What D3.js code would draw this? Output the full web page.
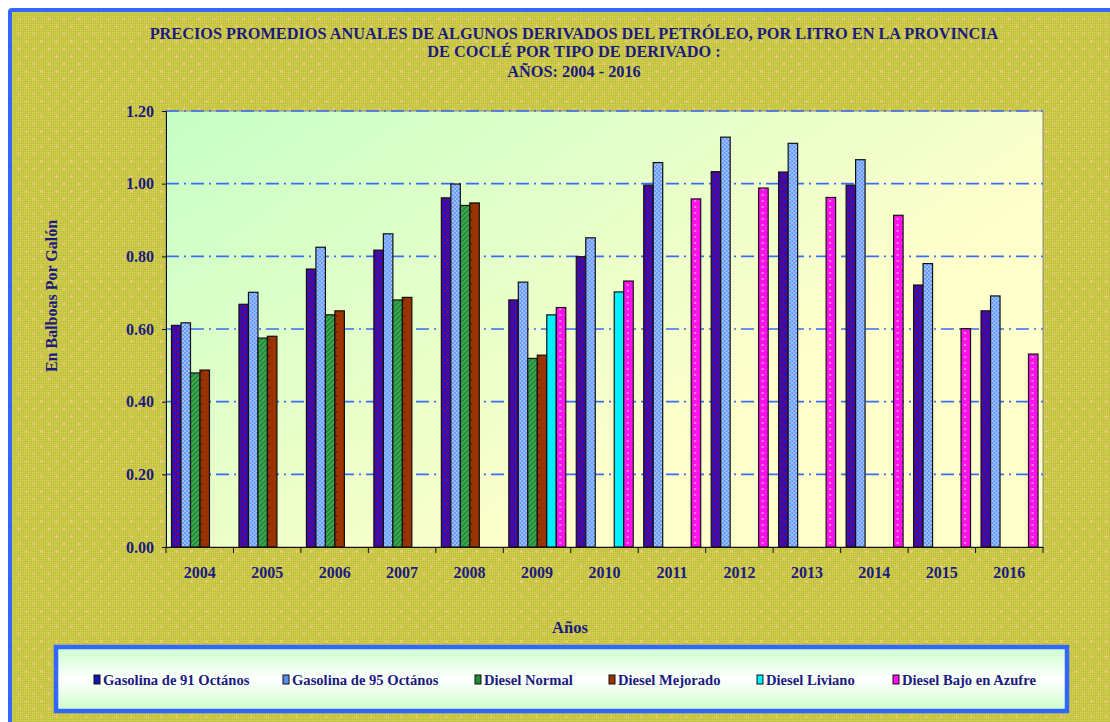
<!DOCTYPE html>
<html>
<head>
<meta charset="utf-8">
<script src="https://cdn.jsdelivr.net/npm/d3@7"></script>
<style>
  body { margin: 0; background: #fff; }
  svg { display: block; }
  text { font-family: "Liberation Serif", "Times New Roman", serif; font-weight: bold; fill: #1a1a80; }
</style>
</head>
<body>
<svg id="chart" width="1110" height="722"></svg>
<script>
// data
const years = ['2004','2005','2006','2007','2008','2009','2010','2011','2012','2013','2014','2015','2016'];
const series = ['Gasolina de 91 Octános','Gasolina de 95 Octános','Diesel Normal','Diesel Mejorado','Diesel Liviano','Diesel Bajo en Azufre'];
const gas91 = [0.610,0.668,0.765,0.817,0.961,0.680,0.799,0.996,1.033,1.032,0.996,0.721,0.650];
const gas95 = [0.617,0.701,0.825,0.862,0.999,0.729,0.851,1.058,1.128,1.111,1.066,0.780,0.691];
const dieselNormal = [0.479,0.575,0.639,0.680,0.940,0.519,null,null,null,null,null,null,null];
const dieselMejorado = [0.487,0.580,0.650,0.687,0.947,0.528,null,null,null,null,null,null,null];
const dieselLiviano = [null,null,null,null,null,0.639,0.702,null,null,null,null,null,null];
const dieselBajo = [null,null,null,null,null,0.659,0.732,0.958,0.988,0.962,0.913,0.601,0.531];
const yTicks = [0,0.2,0.4,0.6,0.8,1.0,1.2];
const titleLines = ['PRECIOS PROMEDIOS ANUALES DE ALGUNOS DERIVADOS DEL PETRÓLEO, POR LITRO EN LA PROVINCIA','DE COCLÉ POR TIPO DE DERIVADO :','AÑOS: 2004 - 2016'];

const values = [gas91, gas95, dieselNormal, dieselMejorado, dieselLiviano, dieselBajo];

const svg = d3.select('#chart');
const defs = svg.append('defs');

const plot = {left:166, right:1043, top:111, bottom:547};

// background texture: olive with little pink crosses
let chk = defs.append('pattern').attr('id','chk').attr('patternUnits','userSpaceOnUse').attr('width',2).attr('height',2);
chk.append('rect').attr('width',2).attr('height',2).attr('fill','#c8c644');
chk.append('rect').attr('width',1).attr('height',1).attr('fill','#d6d056');
chk.append('rect').attr('x',1).attr('y',1).attr('width',1).attr('height',1).attr('fill','#bcc23e');

let plus = defs.append('pattern').attr('id','plus').attr('patternUnits','userSpaceOnUse').attr('width',15).attr('height',15);
[[4,4],[11.5,11.5]].forEach(p => {
  plus.append('rect').attr('x',p[0]-1.5).attr('y',p[1]-0.5).attr('width',3).attr('height',1).attr('fill','#f5c490');
  plus.append('rect').attr('x',p[0]-0.5).attr('y',p[1]-1.5).attr('width',1).attr('height',3).attr('fill','#f5c490');
});

// gradients
let pg = defs.append('linearGradient').attr('id','plotGrad').attr('x1',0).attr('y1',0).attr('x2',0.75).attr('y2',0.55);
pg.append('stop').attr('offset',0).attr('stop-color','#c6ffc6');
pg.append('stop').attr('offset',1).attr('stop-color','#ffffcc');

let lg = defs.append('linearGradient').attr('id','legGrad').attr('x1',0).attr('y1',0).attr('x2',0).attr('y2',1);
lg.append('stop').attr('offset',0).attr('stop-color','#ccffcc');
lg.append('stop').attr('offset',0.5).attr('stop-color','#ffffff');
lg.append('stop').attr('offset',1).attr('stop-color','#ccffcc');

// bar fill patterns
function pat(id, w, h, bg, draw){
  let p = defs.append('pattern').attr('id',id).attr('patternUnits','userSpaceOnUse').attr('width',w).attr('height',h);
  p.append('rect').attr('width',w).attr('height',h).attr('fill',bg);
  draw(p);
}
pat('p91',6,6,'#1414e6', p => {
  p.append('path').attr('d','M0,0L6,6M6,0L0,6').attr('stroke','#7a0050').attr('stroke-width',1.2);
});
pat('p95',4,4,'#6a98f8', p => {
  p.append('rect').attr('x',0).attr('y',0).attr('width',2).attr('height',2).attr('fill','#9cc2ff');
  p.append('rect').attr('x',2).attr('y',2).attr('width',2).attr('height',2).attr('fill','#9cc2ff');
});
pat('pNormal',5,5,'#1f8a3a', p => {
  p.append('path').attr('d','M0,5L5,0M-1,1L1,-1M4,6L6,4').attr('stroke','#4cb05a').attr('stroke-width',1.4);
});
pat('pMejorado',8,8,'#9a3300', p => {
  p.append('rect').attr('x',3).attr('y',3).attr('width',1.5).attr('height',1.5).attr('fill','#4a2200');
});
pat('pLiviano',4,4,'#00f0ff', p => {});
pat('pBajo',6,6,'#ff10f0', p => {
  p.append('rect').attr('x',2).attr('y',2).attr('width',2).attr('height',2).attr('fill','#ff88c8');
});
const fills = ['url(#p91)','url(#p95)','url(#pNormal)','url(#pMejorado)','url(#pLiviano)','url(#pBajo)'];
const legendFill = ['#1414b4','#5b8cf0','#1f8a3a','#9a3300','#00f0ff','#ff10f0'];

// outer frame
svg.append('rect').attr('x',10).attr('y',10).attr('width',1200).attr('height',800).attr('fill','url(#chk)');
svg.append('rect').attr('x',10).attr('y',10).attr('width',1200).attr('height',800).attr('fill','url(#plus)');
svg.append('rect').attr('x',10).attr('y',10).attr('width',1200).attr('height',800).attr('rx',2)
  .attr('fill','none').attr('stroke','#3366ff').attr('stroke-width',4);

// title
svg.append('g').selectAll('text').data(titleLines).enter().append('text')
  .attr('x',574).attr('y',(d,i) => [39,57,77][i])
  .attr('text-anchor','middle').attr('font-size',16.3)
  .text(d => d);

// scales
const x = d3.scaleBand().domain(years).range([plot.left, plot.right]).padding(0);
const xs = d3.scaleBand().domain(d3.range(series.length)).range([5.5, x.bandwidth() - 5]).padding(0);
const y = d3.scaleLinear().domain([0,1.2]).range([plot.bottom, plot.top]);

// plot area
svg.append('rect').attr('x',plot.left).attr('y',plot.top)
  .attr('width',plot.right - plot.left).attr('height',plot.bottom - plot.top)
  .attr('fill','url(#plotGrad)').attr('stroke','#8a8a8a').attr('stroke-width',1);

// grid
svg.append('g').selectAll('line').data(yTicks.filter(d => d > 0)).enter().append('line')
  .attr('x1',plot.left).attr('x2',plot.right)
  .attr('y1',d => y(d)).attr('y2',d => y(d))
  .attr('stroke','#3a6cf5').attr('stroke-width',1.6).attr('stroke-dasharray','13,5,2,5');

// bars
let groups = svg.append('g').selectAll('g').data(years).enter().append('g')
  .attr('transform', d => 'translate(' + x(d) + ',0)');

groups.selectAll('rect')
  .data((yr,i) => values.map((s,k) => ({k:k, v:s[i]})).filter(d => d.v != null))
  .enter().append('rect')
  .attr('x', d => xs(d.k))
  .attr('width', xs.bandwidth())
  .attr('y', d => y(d.v))
  .attr('height', d => y(0) - y(d.v))
  .attr('fill', d => fills[d.k])
  .attr('stroke','#111').attr('stroke-width',1.2);

// y axis
const yAxis = svg.append('g').attr('transform','translate(' + plot.left + ',0)')
  .call(d3.axisLeft(y).tickValues(yTicks).tickFormat(d3.format('.2f')).tickSize(4).tickPadding(8));
yAxis.selectAll('.tick text').attr('font-size',16).attr('fill','#1a1a80');
yAxis.selectAll('.tick line').attr('stroke','#111');
yAxis.select('.domain').attr('stroke','#111');

// x axis: labels centred, ticks at category borders
const xAxis = svg.append('g').attr('transform','translate(0,' + plot.bottom + ')')
  .call(d3.axisBottom(x).tickSize(0).tickPadding(20));
xAxis.selectAll('.tick text').attr('font-size',16).attr('fill','#1a1a80');
xAxis.select('.domain').attr('stroke','#111').attr('stroke-width',1.2);
xAxis.selectAll('line.border').data(years.map(d => x(d)).concat([plot.right])).enter().append('line')
  .attr('class','border')
  .attr('x1',d => d).attr('x2',d => d).attr('y1',0).attr('y2',6)
  .attr('stroke','#111');

// axis titles
svg.append('text').attr('x',570).attr('y',633).attr('text-anchor','middle').attr('font-size',16.5).text('Años');
svg.append('text').attr('transform','translate(57,296) rotate(-90)').attr('text-anchor','middle').attr('font-size',16).text('En Balboas Por Galón');

// legend
svg.append('rect').attr('x',56).attr('y',647).attr('width',1011).attr('height',64)
  .attr('fill','url(#legGrad)').attr('stroke','#3366ff').attr('stroke-width',4.5);
const legX = [94,283,475,609,757,893];
let leg = svg.append('g').selectAll('g').data(series).enter().append('g')
  .attr('transform',(d,i) => 'translate(' + legX[i] + ',680)');
leg.append('rect').attr('x',0).attr('y',-5).attr('width',6).attr('height',9)
  .attr('fill',(d,i) => legendFill[i]).attr('stroke','#111').attr('stroke-width',1);
leg.append('text').attr('x',9).attr('y',5).attr('font-size',14.6).text(d => d);
</script>
</body>
</html>
